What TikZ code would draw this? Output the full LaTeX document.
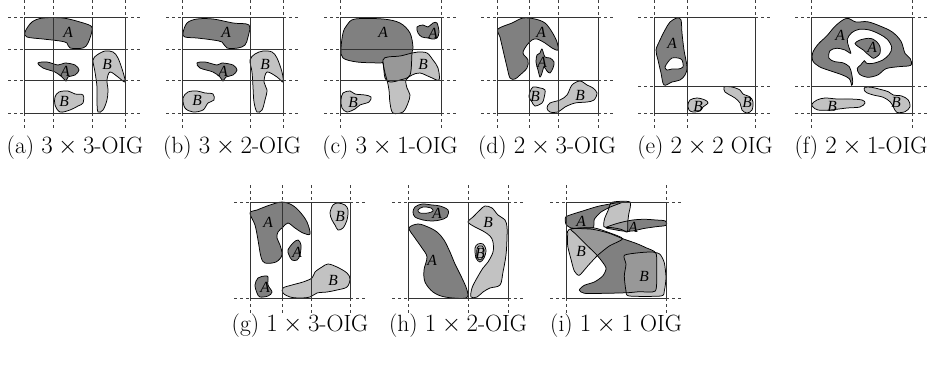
\documentclass[tikz,border=0pt]{standalone}
\usepackage{fontspec}
\newfontfamily\lblfont{Liberation Serif}
\definecolor{colA}{RGB}{128,128,128}
\definecolor{colB}{RGB}{194,194,194}
\definecolor{colAB}{RGB}{152,152,152}
\tikzset{
  gridline/.style={line width=0.9pt, draw=black!80},
  extline/.style={line width=0.8pt, draw=black!75, dash pattern=on 3pt off 3pt},
  outl/.style={draw=black, line width=0.75pt},
  fa/.style={fill=colA, outl},
  fb/.style={fill=colB, outl},
  lbl/.style={font=\lblfont\itshape\fontsize{15.5}{15.5}\selectfont, inner sep=0pt},
  captext/.style={font=\fontsize{23.5}{28}\selectfont, anchor=base, inner sep=0pt},
  sm/.style={smooth cycle, tension=0.55}
}
\newcommand{\oigpanel}[6]{%
  \foreach \vx in {#5} {\draw[gridline] (\vx,#3) -- (\vx,#4);
     \draw[extline] (\vx,#3-17) -- (\vx,#3); \draw[extline] (\vx,#4) -- (\vx,#4+15);}
  \foreach \hy in {#6} {\draw[gridline] (#1,\hy) -- (#2,\hy);
     \draw[extline] (#1-16,\hy) -- (#1,\hy); \draw[extline] (#2,\hy) -- (#2+15,\hy);}
}
% shapes with overlaps, panel (c)
\newcommand{\shpAc}[1]{\path[#1] plot[sm] coordinates {(341,49) (343,33) (347,25) (355,19) (383,19) (400,23) (410,33) (413,47) (412,53) (410,75) (400,80) (390,82) (385,78) (383,63) (380,63) (357,62) (343,58)};}
\newcommand{\shpBc}[1]{\path[#1] plot[sm] coordinates {(383,60) (388,57) (400,56) (412,53) (418,52) (427,53) (433,60) (438,68) (439,80) (430,77) (420,73) (412,75) (406,80) (407,88) (410,95) (408,103) (403,112) (393,113) (390,103) (389,90) (387,80) (385,73)};}
% panel (i)
\newcommand{\shpAia}[1]{\path[#1] plot[smooth cycle, tension=0.35] coordinates {(566,216.7) (582.7,211) (599.3,206) (622.7,202) (611,206.7) (601,212) (594.3,219.3) (593.3,227.7) (582.7,228) (571,228) (566,224.3)};}
\newcommand{\shpAib}[1]{\path[#1] plot[sm] coordinates {(606,227.7) (614.3,224.3) (622.7,222) (632.7,220) (644.3,219.3) (656,220) (665.3,221) (666,225.3) (656,226.7) (642.7,228.7) (632.7,231) (622.7,231) (612.7,229.3)};}
\newcommand{\shpAic}[1]{\path[#1] plot[smooth cycle, tension=0.4] coordinates {(571,228.7) (592.7,229.3) (609.3,233.3) (622.7,238.7) (636,243.3) (646,247.7) (656,253.3) (656.7,272.7) (655.3,291) (639.3,291.7) (627.7,292.7) (606,293.3) (584.3,293.3) (579.3,290) (584.3,285.3) (594.3,282) (602.7,276) (606,267.7) (597.7,256) (587.7,246) (576,234.3)};}
\newcommand{\shpBia}[1]{\path[#1] plot[smooth cycle, tension=0.4] coordinates {(612,202.3) (630,202) (628.7,214.3) (627.7,222.7) (627.3,232) (621,229.3) (612.7,227.7) (604,226.7) (604.5,219) (608,210.7)};}
\newcommand{\shpBib}[1]{\path[#1] plot[smooth cycle, tension=0.4] coordinates {(569.3,229.3) (592.7,227.7) (609.3,232.7) (622.7,238.7) (609.3,246) (597.7,255.3) (587.7,266) (579.3,275.3) (574.3,271) (571,259.3) (567.7,246) (567.7,234.3)};}
\newcommand{\shpBic}[1]{\path[#1] plot[smooth cycle, tension=0.4] coordinates {(624.3,255.3) (639.3,252.7) (652.7,252) (660,254.3) (664.3,262.7) (666,277.7) (664.3,291) (661,296) (629.3,296) (626,291) (624.3,276) (626,264.3)};}
\begin{document}
\begin{tikzpicture}[x=1pt,y=-1pt]
\useasboundingbox[fill=white] (0,0) rectangle (938,365);

% ---------- (a) ----------
\path[fa] plot[sm] coordinates {(25,32) (32,22) (43,18) (63,18) (80,22) (91,26) (92,31) (88,43) (83,48) (70,48) (67,43) (60,41) (43,39) (27,37)};
\path[fa] plot[sm] coordinates {(38,63) (47,62) (58,65) (65,63) (75,65) (79,70) (75,75) (68,77) (66,81) (62,77) (55,72) (43,68)};
\path[fb] plot[sm] coordinates {(93,60) (97,55) (105,51) (113,52) (118,58) (123,72) (125,82) (118,77) (110,72) (107,80) (108,90) (107,100) (103,110) (98,112) (97,102) (97,87) (95,72)};
\path[fb] plot[sm] coordinates {(55,97) (59,92) (68,91) (75,94) (83,95) (83,103) (78,106) (70,110) (60,112) (55,105)};
\oigpanel{24}{125}{17}{113}{24,53,92,125}{17,49,80,113}
\node[lbl] (a1) at (68,32) {A};
\node[lbl] (a2) at (65,71) {A};
\node[lbl] (a3) at (107,64) {B};
\node[lbl] (a4) at (64,101) {B};

% ---------- (b) ----------
\path[fa] plot[sm] coordinates {(183,33) (187,23) (197,19) (213,19) (233,23) (249,25) (248,37) (245,45) (238,48) (227,48) (222,42) (213,40) (197,38) (185,37)};
\path[fa] plot[sm] coordinates {(197,63) (205,62) (217,65) (222,63) (233,65) (237,70) (233,75) (226,77) (223,81) (220,77) (213,72) (200,68)};
\path[fb] plot[sm] coordinates {(250,60) (255,54) (263,51) (272,52) (277,58) (282,72) (283,82) (277,77) (267,72) (264,82) (267,90) (265,100) (262,110) (257,112) (254,102) (253,87) (252,72)};
\path[fb] plot[sm] coordinates {(183,98) (188,92) (197,91) (205,93) (213,94) (214,100) (208,103) (203,110) (193,112) (185,108)};
\oigpanel{182}{283}{17}{113}{182,250,283}{17,49,80,113}
\node[lbl] (b1) at (226,32) {A};
\node[lbl] (b2) at (223,71) {A};
\node[lbl] (b3) at (265,64) {B};
\node[lbl] (b4) at (197,100) {B};

% ---------- (c) ----------
\shpBc{fill=colB}
\shpAc{fill=colA}
\begin{scope}\shpAc{clip}\shpBc{fill=colAB}\end{scope}
\shpAc{outl}
\shpBc{outl}
\path[fa] plot[sm] coordinates {(417,27) (423,25) (428,27) (433,23) (437,23) (439,32) (437,38) (432,39) (428,38) (422,37) (418,33)};
\path[fb] plot[sm] coordinates {(341,100) (343,93) (350,91) (355,94) (365,95) (371,97) (369,102) (360,105) (355,109) (347,112) (342,108)};
\oigpanel{340}{441}{17}{113}{340,441}{17,49,80,113}
\node[lbl] (c1) at (383,32) {A};
\node[lbl] (c2) at (433,33) {A};
\node[lbl] (c3) at (423,64) {B};
\node[lbl] (c4) at (353,102) {B};

% ---------- (d) ----------
\path[fa] plot[sm] coordinates {(498,29) (512,23) (523,18) (535,19) (545,23) (552,32) (557,42) (558,50) (552,48) (545,43) (537,39) (532,40) (527,45) (523,53) (528,60) (527,68) (520,75) (515,79) (510,78) (507,67) (503,50) (500,37)};
\path[fa] plot[sm] coordinates {(537,55) (540,53) (542,49) (545,57) (550,58) (554,62) (553,68) (550,73) (547,71) (544,67) (542,73) (540,77) (538,70) (536,62)};
\path[fb] plot[sm] coordinates {(530,92) (533,87) (540,88) (545,90) (544,98) (542,103) (535,106) (532,102) (529,97)};
\path[fb] plot[sm] coordinates {(547,108) (550,103) (560,100) (567,95) (572,85) (580,81) (587,85) (593,88) (597,93) (594,100) (587,102) (575,103) (565,107) (558,112) (550,112)};
\oigpanel{497}{598}{17}{113}{497,529,558,598}{17,80,113}
\node[lbl] (d1) at (541,32) {A};
\node[lbl] (d2) at (542,62) {A};
\node[lbl] (d3) at (535,96) {B};
\node[lbl] (d4) at (580,95) {B};

% ---------- (e) ----------
\path[fa] plot[sm] coordinates {(656,50) (660,40) (665,30) (670,22) (677,18) (681,20) (682,33) (684,50) (687,67) (685,75) (680,80) (672,82) (664,85) (661,73) (658,60)};
\path[fill=white, outl] plot[sm] coordinates {(665,67) (668,62) (672,58) (678,58) (682,60) (683,67) (678,69) (672,69) (667,70)};
\path[fb] plot[sm] coordinates {(688,105) (690,100) (697,98) (705,100) (708,103) (703,107) (700,111) (693,112) (689,110)};
\path[fb] plot[sm] coordinates {(724,87) (732,87) (740,90) (743,94) (750,97) (753,102) (752,110) (747,113) (742,110) (740,103) (735,98) (728,94) (725,92)};
\oigpanel{654}{755}{17}{113}{654,687,755}{17,86,113}
\node[lbl] (e1) at (672,43) {A};
\node[lbl] (e2) at (698,106) {B};
\node[lbl] (e3) at (747,102) {B};

% ---------- (f) ----------
\path[fa] plot[sm] coordinates {(851.7,85.3) (849.3,78.7) (841.7,74.7) (830,70.7) (819.3,66.7) (812.7,60.7) (812.7,52.7) (818.3,44) (826.7,36) (836,25.3) (846.7,18.3) (856,22) (867.3,21.7) (880,26) (892.3,32) (901,41.3) (905,53.3) (910.3,58.7) (910.7,65.3) (898.3,66.7) (886,68.7) (877.7,75) (867.3,77.3) (859.3,74) (857.3,68.3) (860.7,65) (864.3,60.7) (866.7,63.3) (873.3,63.3) (882.7,60) (889.3,54.3) (891.7,47.3) (887.3,39.3) (879.3,34) (869.3,30) (859.3,29.3) (851.7,32.7) (847.3,39.3) (848.7,46.7) (850.7,53.3) (845,50) (836.7,48.3) (830,50.7) (829,58.3) (835,61.7) (842.7,62.7) (849.3,66.7) (851.7,74) (852.7,81.7)};
\path[fa] plot[sm] coordinates {(855,43.3) (860,40) (868.3,38.3) (873.3,39.3) (876.7,41.7) (880,46.7) (880,53.3) (876.7,56.7) (873.3,58.3) (870,56) (866.7,53.3) (863.3,50) (858.3,46.7)};
\path[fb] plot[sm] coordinates {(812,104) (817,100) (825,98) (837,99) (850,99) (862,100) (865,103) (860,107) (847,108) (830,110) (818,110) (813,107)};
\path[fb] plot[sm] coordinates {(865,87.3) (871.7,87.3) (880,89.3) (888.3,91.7) (893.3,95) (901.7,96) (908.3,100) (910,106.7) (905,111.7) (896.7,112.3) (893.3,106.7) (890,101.7) (883.3,97.3) (873.3,95) (866.7,92.7) (864.3,90)};
\oigpanel{811}{912}{17}{113}{811,912}{17,86,113}
\node[lbl] (f1) at (840,35) {A};
\node[lbl] (f2) at (872,47) {A};
\node[lbl] (f3) at (832,106) {B};
\node[lbl] (f4) at (896,102) {B};

% ---------- (g) ----------
\path[fa] plot[sm] coordinates {(250,213) (257,210) (270,205) (282,202) (292,205) (300,212) (307,222) (310,234) (303,233) (295,228) (288,223) (283,227) (278,232) (277,238) (280,245) (282,255) (276,262) (265,263) (261,257) (258,240) (255,225)};
\path[fa] plot[sm] coordinates {(288,250) (293,243) (298,240) (301,245) (300,255) (297,260) (292,260) (289,255)};
\path[fb] plot[sm] coordinates {(330,213) (333,205) (338,203) (345,205) (348,210) (347,220) (343,228) (338,230) (335,225) (332,220)};
\path[fa] plot[sm] coordinates {(255,285) (258,278) (265,276) (268,277) (268,285) (272,292) (268,296) (260,297) (257,293)};
\path[fb] plot[sm] coordinates {(283,288) (292,285) (303,282) (312,278) (315,272) (322,267) (328,264) (337,267) (347,273) (350,279) (347,287) (337,290) (327,292) (317,293) (310,297) (300,298) (290,297) (283,293)};
\oigpanel{250}{350}{202}{298}{250,282,311,350}{202,298}
\node[lbl] (g1) at (268,222) {A};
\node[lbl] (g2) at (297,252) {A};
\node[lbl] (g3) at (340,216) {B};
\node[lbl] (g4) at (265,287) {A};
\node[lbl] (g5) at (333,280) {B};

% ---------- (h) ----------
\path[fa] plot[sm] coordinates {(413,212) (415,207) (422,204) (432,205) (440,206) (448,210) (447,217) (440,220) (432,221) (423,220) (415,217)};
\path[fill=white, outl] plot[sm] coordinates {(418,210) (423,207) (431,208) (433,211) (428,213) (420,213)};
\path[fa] plot[sm] coordinates {(409,228) (415,238) (422,248) (427,257) (424,270) (425,282) (433,292) (445,297) (466,298) (467,290) (461,276) (455,264) (450,252) (444,240) (437,232) (428,227) (418,224)};
\path[fb] plot[sm] coordinates {(468,222) (473,217) (480,210) (485,206) (492,208) (498,215) (505,220) (507,227) (507,238) (506,255) (503,272) (500,285) (490,288) (483,292) (477,297) (471,297) (472,288) (477,278) (483,268) (488,262) (493,252) (493,242) (490,236) (483,231) (475,227)};
\path[fb] plot[sm] coordinates {(475,248) (478,244) (483,244) (486,250) (484,258) (480,262) (476,258)};
\path[outl] plot[sm] coordinates {(477,249) (479,246) (482,246) (484,250) (483,257) (480,260) (477,257)};
\oigpanel{408}{508}{202}{298}{408,468,508}{202,298}
\node[lbl] (h1) at (437,213) {A};
\node[lbl] (h2) at (432,260) {A};
\node[lbl] (h3) at (488,222) {B};
\node[lbl] (h4) at (480,253) {B};

% ---------- (i) ----------
\shpBia{fill=colB}\shpBib{fill=colB}\shpBic{fill=colB}
\shpAia{fill=colA}\shpAib{fill=colA}\shpAic{fill=colA}
\begin{scope}\shpAia{clip}\shpBia{fill=colAB}\shpBib{fill=colAB}\end{scope}
\begin{scope}\shpAib{clip}\shpBia{fill=colAB}\end{scope}
\begin{scope}\shpAic{clip}\shpBia{fill=colAB}\shpBib{fill=colAB}\shpBic{fill=colAB}\end{scope}
\shpBia{outl}\shpBib{outl}\shpBic{outl}
\shpAia{outl}\shpAib{outl}\shpAic{outl}
\oigpanel{566}{666}{202}{298}{566,666}{202,298}
\node[lbl] (i1) at (581,221) {A};
\node[lbl] (i2) at (633,227.7) {A};
\node[lbl] (i3) at (581,251) {B};
\node[lbl] (i4) at (644,276) {B};

% ---------- captions ----------
\node[captext] (capa) at (75,153) {(a) $3\times3$-OIG};
\node[captext] (capb) at (232,153) {(b) $3\times2$-OIG};
\node[captext] (capc) at (390,153) {(c) $3\times1$-OIG};
\node[captext] (capd) at (547,153) {(d) $2\times3$-OIG};
\node[captext] (cape) at (705,153) {(e) $2\times2$ OIG};
\node[captext] (capf) at (861,153) {(f) $2\times1$-OIG};
\node[captext] (capg) at (300,331) {(g) $1\times3$-OIG};
\node[captext] (caph) at (458,331) {(h) $1\times2$-OIG};
\node[captext] (capi) at (616,331) {(i) $1\times1$ OIG};
\end{tikzpicture}
\end{document}
